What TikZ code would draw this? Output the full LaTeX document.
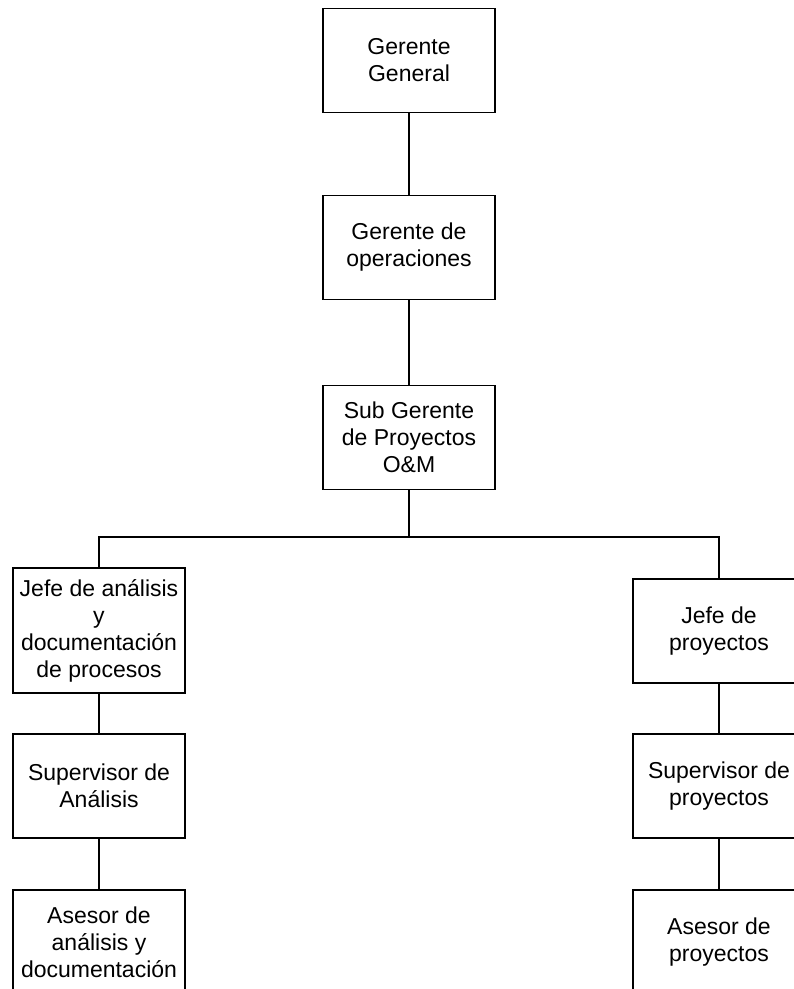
\documentclass[tikz,border=0pt]{standalone}
\usepackage{fontspec}
\setmainfont{Liberation Sans}
\tikzset{
  cargo/.style={draw, line width=1.2pt, align=center, inner sep=2pt,
    minimum width=172pt, minimum height=104pt,
    font=\fontsize{23}{27}\selectfont},
  enlace/.style={line width=1.2pt}
}
\begin{document}
\begin{tikzpicture}[x=1pt, y=-1pt]
    \useasboundingbox (0,0) rectangle (794,989);
    % nivel central
    \node[cargo] (gg_box) at (409, 60.5) {Gerente\\General};
    \node[cargo] (go_box) at (409, 247.5) {Gerente de\\operaciones};
    \node[cargo] (sg_box) at (409, 437.5) {Sub Gerente\\de Proyectos\\O\&M};
    \coordinate (bus_pnt) at (409, 537);
    % rama izquierda
    \node[cargo, minimum height=125pt] (ja_box) at (99, 630.5) {Jefe de análisis\\y\\documentación\\de procesos};
    \node[cargo] (sa_box) at (99, 786) {Supervisor de\\Análisis};
    \node[cargo] (aa_box) at (99, 942) {Asesor de\\análisis y\\documentación};
    % rama derecha
    \node[cargo] (jp_box) at (719, 631) {Jefe de\\proyectos};
    \node[cargo] (sp_box) at (719, 786) {Supervisor de\\proyectos};
    \node[cargo] (ap_box) at (719, 942) {Asesor de\\proyectos};
    % lineas
    \draw[enlace] (gg_box) -- (go_box);
    \draw[enlace] (go_box) -- (sg_box);
    \draw[enlace] (sg_box) -- (bus_pnt);
    \draw[enlace] (ja_box.north) |- (bus_pnt) -| (jp_box.north);
    \draw[enlace] (ja_box) -- (sa_box);
    \draw[enlace] (sa_box) -- (aa_box);
    \draw[enlace] (jp_box) -- (sp_box);
    \draw[enlace] (sp_box) -- (ap_box);
\end{tikzpicture}
\end{document}
